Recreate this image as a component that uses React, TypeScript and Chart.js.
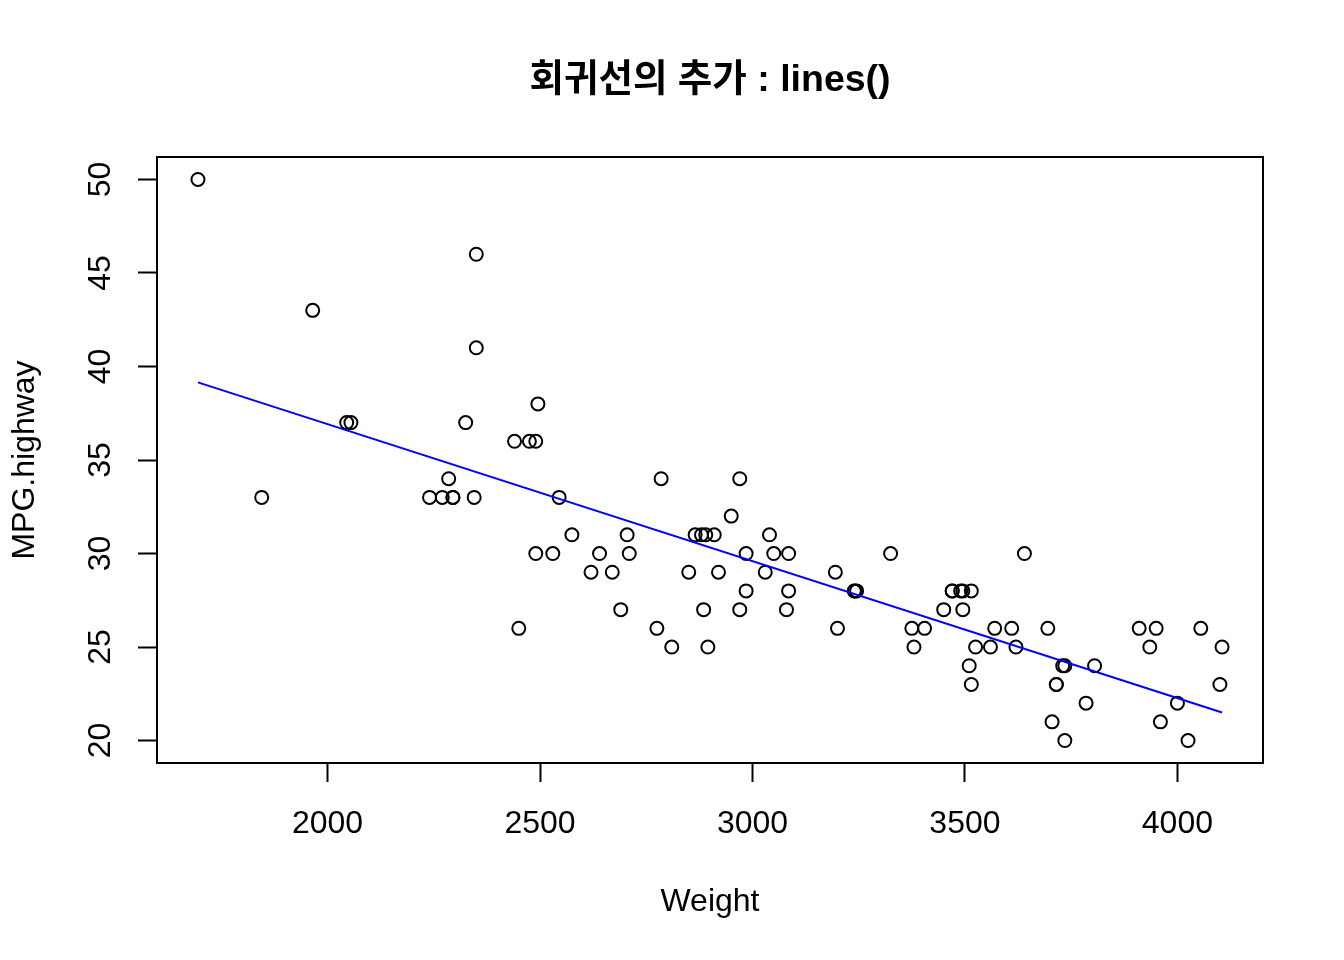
import React, { useEffect, useRef } from "react";
import { Chart, registerables } from "chart.js";

Chart.register(...registerables);

const titleText = "회귀선의 추가 : lines()";
const xLabel = "Weight";
const yLabel = "MPG.highway";

const weight = [
  2705, 3560, 3375, 3405, 3640, 2880, 3470, 4105, 3495, 3620,
  3935, 2490, 2785, 3240, 3195, 3715, 4025, 3910, 3380, 3515,
  3085, 3570, 2270, 2670, 2970, 3705, 3080, 3805, 2295, 3490,
  1845, 2530, 2690, 2850, 2710, 3735, 3325, 3950, 1695, 2475,
  2865, 2350, 3040, 2345, 2620, 2285, 2885, 4000, 3510, 3515,
  3695, 4055, 2325, 2440, 2970, 3735, 2895, 2920, 3525, 2450,
  3610, 2295, 3730, 2545, 3050, 4100, 3200, 2910, 2890, 3715,
  3470, 2640, 2350, 2575, 3240, 3450, 3495, 2775, 2495, 2045,
  2490, 3085, 1965, 2055, 2950, 3030, 3785, 2240, 3960, 2985,
  2810, 2985, 3245,
];

const mpgHighway = [
  31, 25, 26, 26, 30, 31, 28, 25, 27, 25,
  25, 36, 34, 28, 29, 23, 20, 26, 25, 28,
  28, 26, 33, 29, 27, 21, 27, 24, 33, 28,
  33, 30, 27, 29, 30, 20, 30, 26, 50, 36,
  31, 46, 31, 33, 29, 34, 27, 22, 24, 23,
  26, 26, 37, 36, 34, 24, 25, 29, 25, 26,
  26, 33, 24, 33, 30, 23, 26, 31, 31, 23,
  28, 30, 41, 31, 28, 27, 28, 26, 38, 37,
  30, 30, 43, 37, 32, 29, 22, 33, 21, 30,
  25, 28, 28,
];

// regression line (fitted values at min and max weight)
const fitWeight = [1695, 4105];
const fitMpg = [39.15, 21.5];

const xTicks = [2000, 2500, 3000, 3500, 4000];
const yTicks = [20, 25, 30, 35, 40, 45, 50];
const xMin = 1598.6;
const xMax = 4201.4;
const yMin = 18.8;
const yMax = 51.2;

const FAMILY = "'Liberation Sans', Arial, 'Noto Sans CJK KR', sans-serif";

const overlay = {
  id: "overlay",
  afterDraw(chart: any) {
    const { ctx, chartArea, scales } = chart;
    ctx.save();
    ctx.strokeStyle = "#000";
    ctx.lineWidth = 2;
    ctx.strokeRect(
      chartArea.left,
      chartArea.top,
      chartArea.right - chartArea.left,
      chartArea.bottom - chartArea.top
    );
    ctx.fillStyle = "#000";
    ctx.textAlign = "center";
    ctx.textBaseline = "middle";
    ctx.font = `bold 37.5px ${FAMILY}`;
    ctx.fillText(titleText, (chartArea.left + chartArea.right) / 2, 81);
    ctx.font = `32px ${FAMILY}`;
    for (const v of yTicks) {
      const py = scales.y.getPixelForValue(v);
      ctx.save();
      ctx.translate(chartArea.left - 56, py);
      ctx.rotate(-Math.PI / 2);
      ctx.fillText(String(v), 0, 0);
      ctx.restore();
    }
    ctx.restore();
  },
};

export default function App() {
  const ref = useRef<HTMLCanvasElement>(null);
  useEffect(() => {
    if (!ref.current) return;
    const gridOpts = {
      display: true,
      drawOnChartArea: false,
      drawTicks: true,
      tickLength: 19,
      tickWidth: 2,
      tickColor: "#000",
      color: "#000",
    };
    const chart = new Chart(ref.current, {
      type: "scatter",
      data: {
        datasets: [
          {
            label: "fit",
            data: fitWeight.map((w, i) => ({ x: w, y: fitMpg[i] })),
            showLine: true,
            borderColor: "#0000FF",
            borderWidth: 2,
            pointRadius: 0,
            pointHoverRadius: 0,
            order: 0,
          },
          {
            label: "cars",
            data: weight.map((w, i) => ({ x: w, y: mpgHighway[i] })),
            pointStyle: "circle",
            pointRadius: 6.5,
            pointHoverRadius: 6.5,
            borderWidth: 2,
            borderColor: "#000",
            backgroundColor: "rgba(0,0,0,0)",
            order: 1,
          },
        ],
      },
      options: {
        animation: false,
        responsive: false,
        devicePixelRatio: 1,
        events: [],
        layout: { padding: { top: 157, right: 81, left: 0, bottom: 0 } },
        plugins: {
          legend: { display: false },
          title: { display: false },
          tooltip: { enabled: false },
        },
        scales: {
          x: {
            type: "linear",
            min: xMin,
            max: xMax,
            afterBuildTicks: (s: any) => {
              s.ticks = xTicks.map((v) => ({ value: v }));
            },
            afterFit: (s: any) => {
              s.height = 197;
            },
            grid: gridOpts,
            border: { display: false },
            ticks: {
              color: "#000",
              font: { size: 32, family: FAMILY },
              padding: 23,
              maxRotation: 0,
              autoSkip: false,
              callback: (v: any) => String(v),
            },
            title: {
              display: true,
              text: xLabel,
              color: "#000",
              font: { size: 32, family: FAMILY },
              padding: { top: 0, bottom: 39 },
            },
          },
          y: {
            type: "linear",
            min: yMin,
            max: yMax,
            afterBuildTicks: (s: any) => {
              s.ticks = yTicks.map((v) => ({ value: v }));
            },
            afterFit: (s: any) => {
              s.width = 157;
            },
            grid: gridOpts,
            border: { display: false },
            ticks: { display: false },
            title: {
              display: true,
              text: yLabel,
              color: "#000",
              font: { size: 32, family: FAMILY },
              padding: { top: 6, bottom: 0 },
            },
          },
        },
      },
      plugins: [overlay],
    });
    return () => chart.destroy();
  }, []);
  return (
    <div style={{ position: "absolute", left: 0, top: 0, width: 1344, height: 960, background: "#fff" }}>
      <canvas ref={ref} width={1344} height={960} />
    </div>
  );
}
